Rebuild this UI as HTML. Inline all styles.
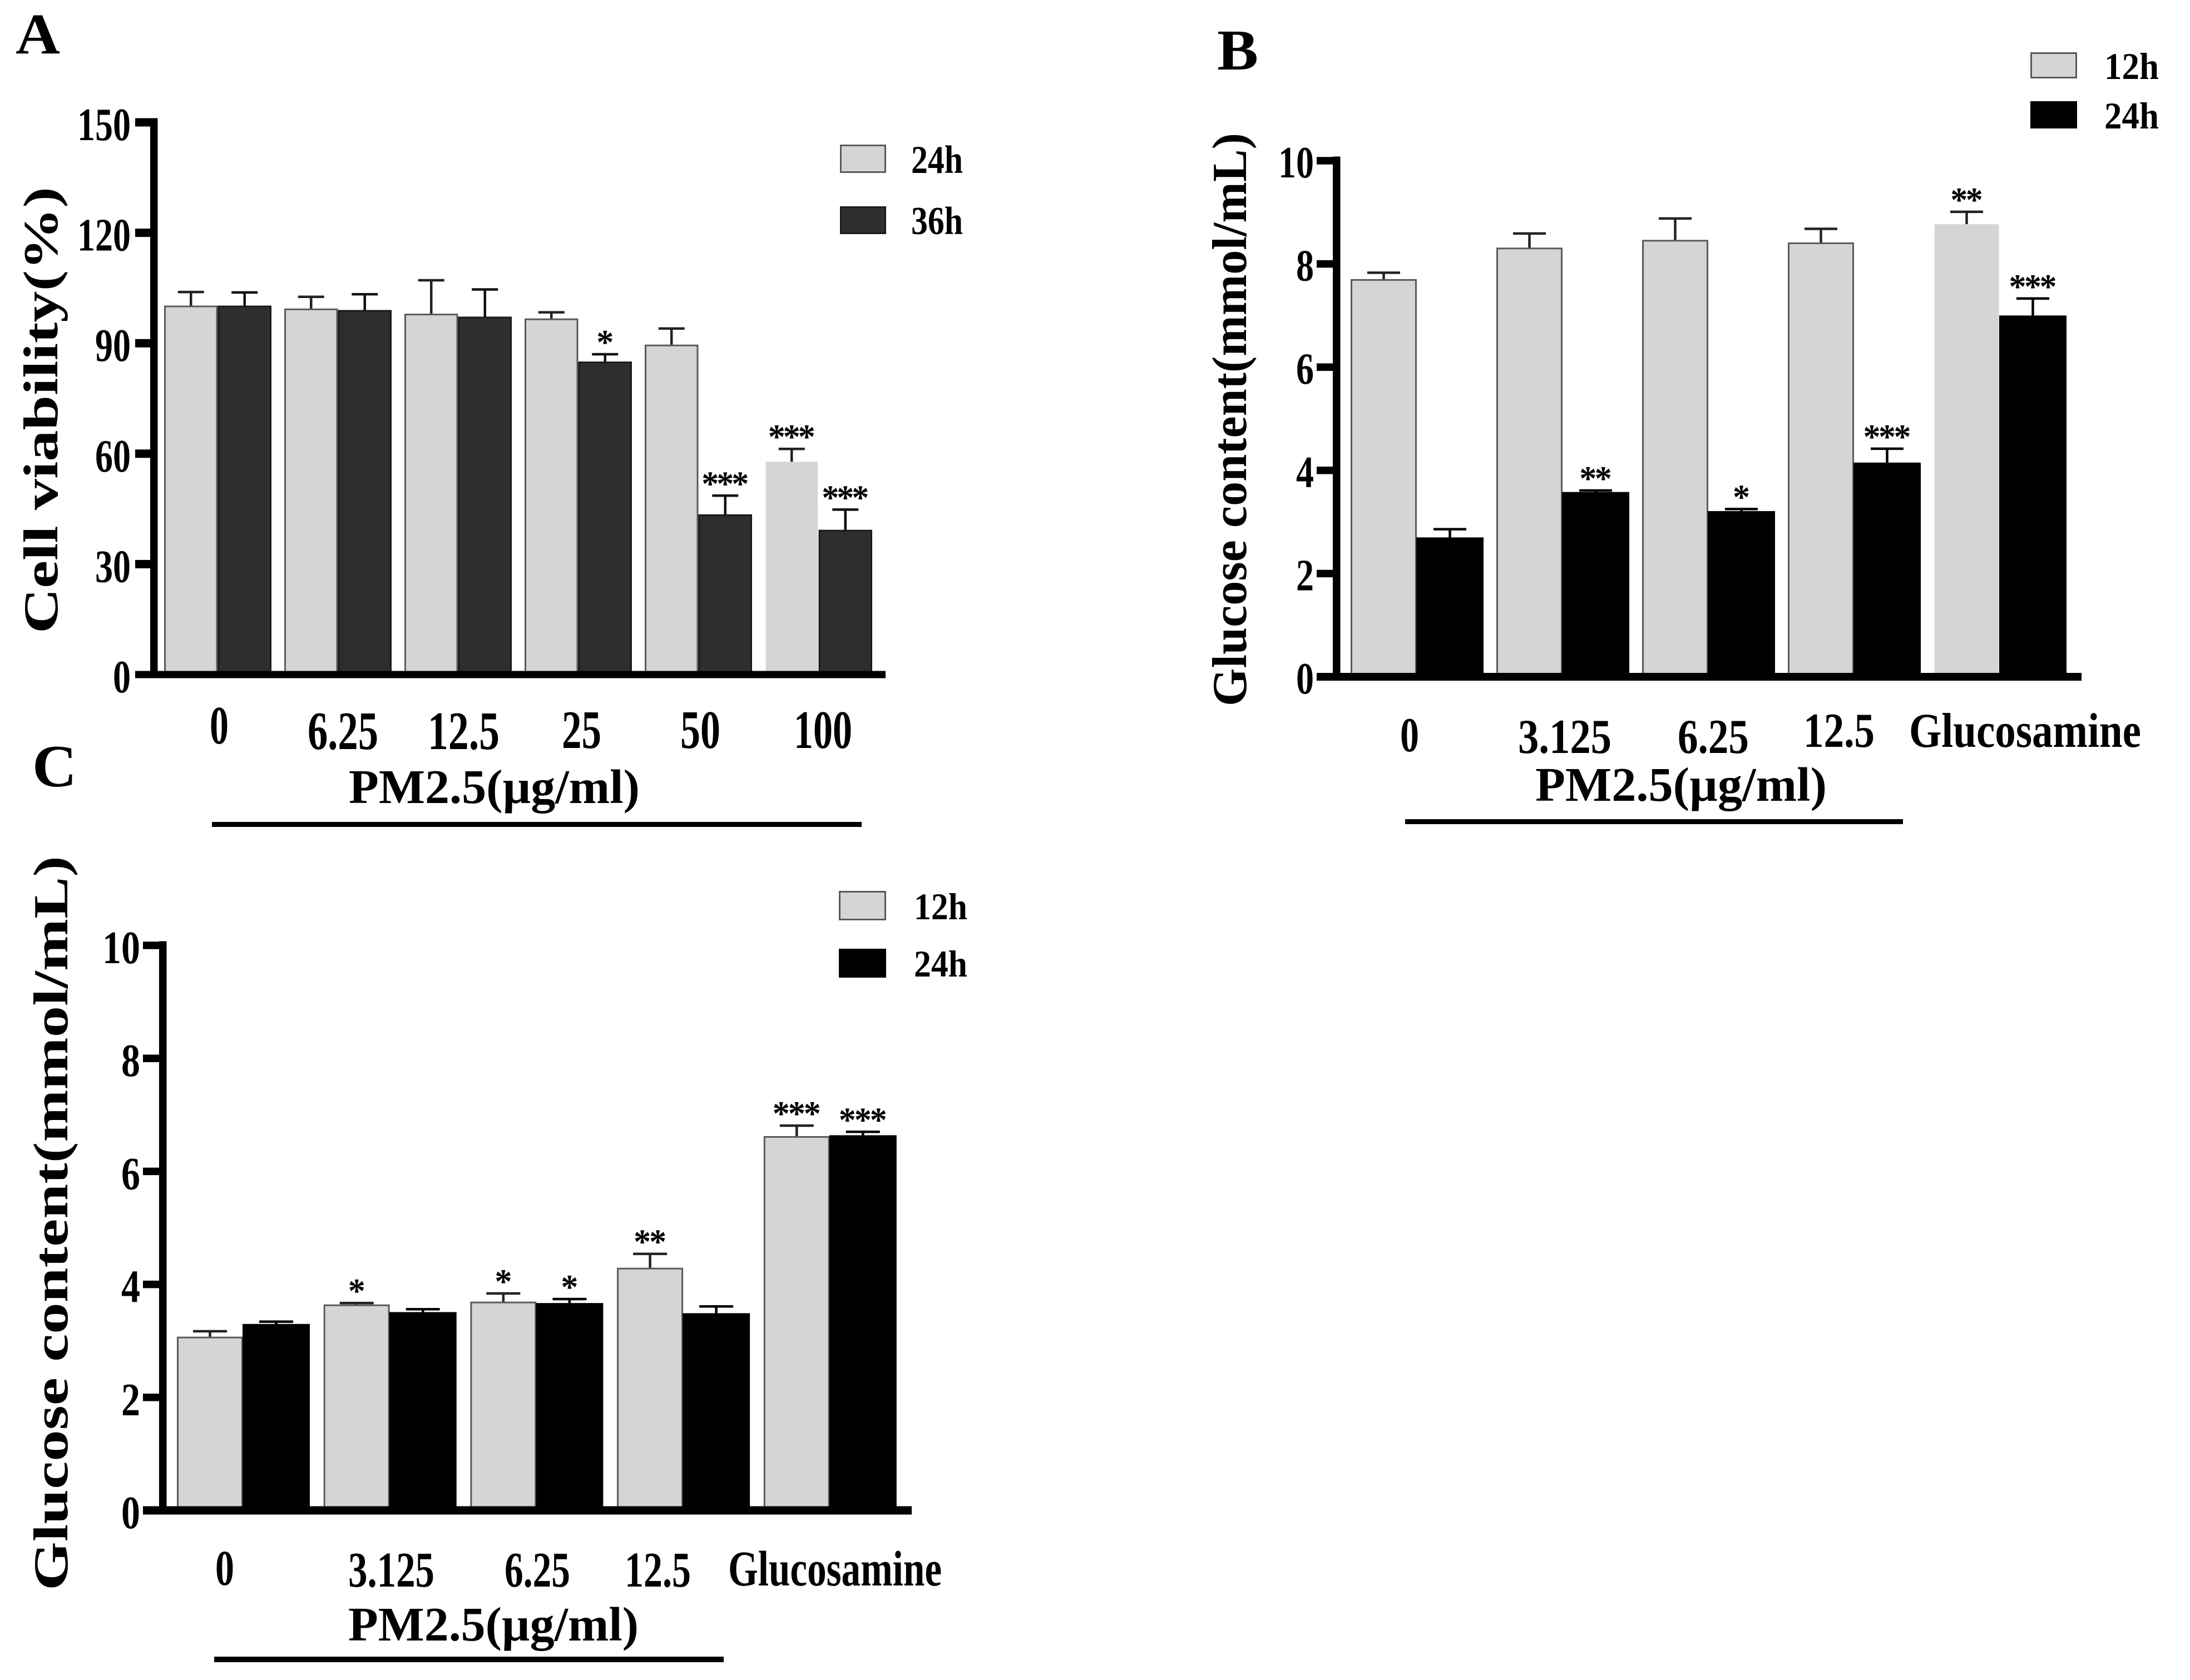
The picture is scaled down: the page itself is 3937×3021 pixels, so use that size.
<!DOCTYPE html>
<html lang="en">
<head>
<meta charset="utf-8">
<title>PM2.5 cell viability and glucose content</title>
<style>
html,body{margin:0;padding:0;background:#fff;width:3937px;height:3021px;overflow:hidden}
svg{display:block}
text{font-family:"Liberation Serif",serif;font-weight:bold;fill:#000}
</style>
</head>
<body>
<svg id="figure" xmlns="http://www.w3.org/2000/svg" width="3937" height="3021" viewBox="0 0 3937 3021">
<rect x="0" y="0" width="3937" height="3021" fill="#ffffff"/>
</svg>
<script>
// ---------- Panel A data ----------
const aCategories = ["0", "6.25", "12.5", "25", "50", "100"];
const aTicks = [0, 30, 60, 90, 120, 150];
const aValues24h = [100, 99.2, 97.8, 96.5, 89.4, 57.8];
const aErrors24h = [3.9, 3.4, 9.3, 1.9, 4.6, 3.5];
const aStars24h = ["", "", "", "", "", "***"];
const aValues36h = [100, 98.8, 97, 84.8, 43.3, 39.1];
const aErrors36h = [3.8, 4.5, 7.6, 2.2, 5.3, 5.7];
const aStars36h = ["", "", "", "*", "***", "***"];

// ---------- Panel B data ----------
const bCategories = ["0", "3.125", "6.25", "12.5", "Glucosamine"];
const bTicks = [0, 2, 4, 6, 8, 10];
const bValues12h = [7.69, 8.30, 8.45, 8.40, 8.77];
const bErrors12h = [0.14, 0.29, 0.43, 0.28, 0.24];
const bStars12h = ["", "", "", "", "**"];
const bValues24h = [2.69, 3.57, 3.20, 4.14, 6.99];
const bErrors24h = [0.17, 0.04, 0.05, 0.28, 0.34];
const bStars24h = ["", "**", "*", "***", "***"];

// ---------- Panel C data ----------
const cCategories = ["0", "3.125", "6.25", "12.5", "Glucosamine"];
const cTicks = [0, 2, 4, 6, 8, 10];
const cValues12h = [3.06, 3.63, 3.68, 4.28, 6.61];
const cErrors12h = [0.11, 0.04, 0.16, 0.26, 0.20];
const cStars12h = ["", "*", "*", "**", "***"];
const cValues24h = [3.29, 3.50, 3.66, 3.48, 6.63];
const cErrors24h = [0.05, 0.06, 0.08, 0.13, 0.07];
const cStars24h = ["", "", "*", "", "***"];

const NS = "http://www.w3.org/2000/svg";
const root = document.getElementById("figure");

function make(tag, attrs, parent) {
  const el = document.createElementNS(NS, tag);
  for (const k in attrs) el.setAttribute(k, attrs[k]);
  (parent || root).appendChild(el);
  return el;
}

function label(parent, name, str, left, baseline, width, size) {
  const el = make("text", {x: left, y: baseline, "font-size": size, textLength: width, lengthAdjust: "spacingAndGlyphs"}, parent);
  
  
  el.textContent = str;
  return el;
}

function starLabel(parent, name, str, cx, baseline, pitch, size) {
  const advance = size * 0.5;
  const left = cx - advance / 2 - (str.length - 1) * pitch / 2;
  const el = make("text", {x: left, y: baseline, "font-size": size, "letter-spacing": pitch - advance}, parent);
  
  
  el.textContent = str;
  return el;
}

function verticalLabel(parent, name, str, baselineX, bottomY, length, size) {
  const el = make("text", {x: 0, y: 0, "font-size": size, textLength: length, lengthAdjust: "spacingAndGlyphs", transform: "translate(" + baselineX + " " + bottomY + ") rotate(-90)"}, parent);
  
  
  el.textContent = str;
  return el;
}

function drawSeries(g, p, seriesIndex, values, errors, stars, style, slug) {
  const yOf = p.yScale;
  values.forEach(function (v, i) {
    const left = p.x0 + i * p.pitch + seriesIndex * p.barW;
    const cx = left + p.barW / 2;
    const top = yOf(v);
    const errTop = yOf(v + errors[i]);

    const stem = make("line", {x1: cx, x2: cx, y1: top, y2: errTop, stroke: style.err, "stroke-width": 4.5}, g);
    
    

    const cap = make("line", {x1: cx - p.capW / 2, x2: cx + p.capW / 2, y1: errTop, y2: errTop, stroke: style.err, "stroke-width": 4.5}, g);
    
    

    const plain = seriesIndex === 0 && p.plainLast && i === values.length - 1;
    const bar = make("rect", {
      x: left + style.inset, y: top,
      width: p.barW - style.inset * 2, height: Math.max(0, p.y0 - top),
      fill: style.fill, stroke: plain ? "none" : style.stroke, "stroke-width": style.sw
    }, g);
    
    

    if (stars[i]) {
      starLabel(g, 'significance-' + slug + '-' + i, stars[i], cx, errTop + p.starDy, p.starW, p.starFs);
    }
  });
}

function drawPanel(p) {
  const g = make("g", {});
  
  

  p.yScale = function (v) { return p.y0 - (v / p.yMax) * (p.y0 - p.yTop); };

  drawSeries(g, p, 0, p.s1, p.e1, p.st1, p.style1, p.name1);
  drawSeries(g, p, 1, p.s2, p.e2, p.st2, p.style2, p.name2);

  // axes
  const yAxis = make("rect", {x: p.axisX, y: p.yTop - 7.5, width: 13.5, height: p.y0 - p.yTop + 14, fill: "#000"}, g);
  
  

  const xAxis = make("rect", {x: p.tickLeft, y: p.y0 - p.baseTh / 2, width: p.axisRight - p.tickLeft, height: p.baseTh, fill: "#000"}, g);
  
  

  p.ticks.forEach(function (t) {
    const y = p.yScale(t);
    if (t !== 0) {
      const tick = make("rect", {x: p.tickLeft, y: y - p.tickTh / 2, width: p.axisX - p.tickLeft, height: p.tickTh, fill: "#000"}, g);
      
      
    }
    const s = String(t);
    const w = s.length * p.tickCharW;
    label(g, 'y-tick-label-' + t, s, p.tickRight - w, y + p.tickDy, w, p.tickFs);
  });

  // category labels
  p.cats.forEach(function (c, i) {
    const box = p.catBoxes[i];
    label(g, 'x-tick-label-' + c, c, box[0], box[2], box[1] - box[0], p.catFs);
  });

  verticalLabel(g, 'y-axis-title', p.yTitle, p.title[0], p.title[1], p.title[2], p.title[3]);
  label(g, 'x-axis-title', "PM2.5(\u00B5g/ml)", p.xTitle[0], p.xTitle[2], p.xTitle[1] - p.xTitle[0], p.xTitle[3]);

  const rule = make("rect", {x: p.rule[0], y: p.rule[2], width: p.rule[1] - p.rule[0], height: p.rule[3], fill: "#000"}, g);
  
  

  label(g, 'panel-letter', p.letter[0], p.letter[1], p.letter[3], p.letter[2] - p.letter[1], p.letter[4]);

  // legend
  [[p.name1, p.style1, p.leg1], [p.name2, p.style2, p.leg2]].forEach(function (e) {
    const b = e[2];
    const sw = make("rect", {x: p.legX[0] + 1.5, y: b[0] + 1.5, width: p.legX[1] - p.legX[0] - 3, height: b[1] - b[0] - 3, fill: e[1].fill, stroke: e[1].stroke, "stroke-width": 3}, g);
    
    
    label(g, 'legend-label-' + e[0], e[0], p.legText[0], b[2], p.legText[1] - p.legText[0], p.legFs);
  });
}

const lightStyle = {fill: "#d5d5d5", stroke: "#5a5a5a", sw: 3, err: "#222", inset: 1.5};
const darkStyle = {fill: "#2e2e2e", stroke: "#1a1a1a", sw: 3, err: "#111", inset: 1.5};
const blackStyle = {fill: "#000", stroke: "#000", sw: 2, err: "#000", inset: 0};

drawPanel({
  id: "a", cats: aCategories, ticks: aTicks, yMax: 150,
  s1: aValues24h, e1: aErrors24h, st1: aStars24h, name1: "24h", style1: lightStyle,
  s2: aValues36h, e2: aErrors36h, st2: aStars36h, name2: "36h", style2: darkStyle,
  plainLast: true,
  x0: 295, pitch: 216, barW: 96.5, y0: 1213, yTop: 220,
  axisX: 270, tickLeft: 243, axisRight: 1592, baseTh: 13, tickTh: 15, capW: 47,
  tickFs: 84, tickCharW: 32, tickRight: 235, tickDy: 32,
  starFs: 62, starW: 27, starDy: -1,
  catFs: 98,
  catBoxes: [[377, 411, 1337], [553, 680, 1347], [769, 898, 1347], [1010, 1081, 1345], [1223, 1295, 1345], [1427, 1532, 1345]],
  yTitle: "Cell viability(%)", title: [103, 1139, 803, 88],
  xTitle: [627, 1150, 1444, 87],
  rule: [381, 1549, 1478, 9],
  letter: ["A", 28, 108, 96, 104],
  legX: [1510, 1593], leg1: [260, 311, 311], leg2: [371, 421, 421],
  legText: [1638, 1731], legFs: 71
});

drawPanel({
  id: "b", cats: bCategories, ticks: bTicks, yMax: 10,
  s1: bValues12h, e1: bErrors12h, st1: bStars12h, name1: "12h", style1: lightStyle,
  s2: bValues24h, e2: bErrors24h, st2: bStars24h, name2: "24h", style2: blackStyle,
  plainLast: true,
  x0: 2428, pitch: 262, barW: 119, y0: 1217, yTop: 289,
  axisX: 2396, tickLeft: 2367, axisRight: 3742, baseTh: 14, tickTh: 13.5, capW: 59,
  tickFs: 80, tickCharW: 32, tickRight: 2362, tickDy: 30,
  starFs: 62, starW: 27.5, starDy: -1,
  catFs: 88,
  catBoxes: [[2517, 2551, 1351], [2729, 2897, 1354], [3016, 3144, 1354], [3242, 3370, 1343], [3432, 3849, 1343]],
  yTitle: "Glucose content(mmol/mL)", title: [2240, 1270, 1031, 88],
  xTitle: [2760, 3284, 1440, 87],
  rule: [2526, 3421, 1473, 9],
  letter: ["B", 2188, 2262, 125, 104],
  legX: [3650, 3734], leg1: [94, 141, 142], leg2: [182, 231, 231],
  legText: [3783, 3881], legFs: 68
});

drawPanel({
  id: "c", cats: cCategories, ticks: cTicks, yMax: 10,
  s1: cValues12h, e1: cErrors12h, st1: cStars12h, name1: "12h", style1: lightStyle,
  s2: cValues24h, e2: cErrors24h, st2: cStars24h, name2: "24h", style2: blackStyle,
  plainLast: false,
  x0: 318, pitch: 263.7, barW: 119, y0: 2716, yTop: 1700,
  axisX: 286, tickLeft: 257, axisRight: 1639, baseTh: 15, tickTh: 13.5, capW: 61,
  tickFs: 84, tickCharW: 34, tickRight: 252, tickDy: 32,
  starFs: 62, starW: 28, starDy: -1,
  catFs: 90,
  catBoxes: [[387, 421, 2850], [626, 781, 2853], [907, 1025, 2853], [1123, 1242, 2853], [1309, 1693, 2851]],
  yTitle: "Glucose content(mmol/mL)", title: [121, 2860, 1321, 88],
  xTitle: [626, 1148, 2950, 87],
  rule: [385, 1301, 2979, 10],
  letter: ["C", 58, 138, 1414, 108],
  legX: [1508, 1593], leg1: [1602, 1655, 1653], leg2: [1706, 1758, 1756],
  legText: [1643, 1739], legFs: 68
});
</script>
</body>
</html>
